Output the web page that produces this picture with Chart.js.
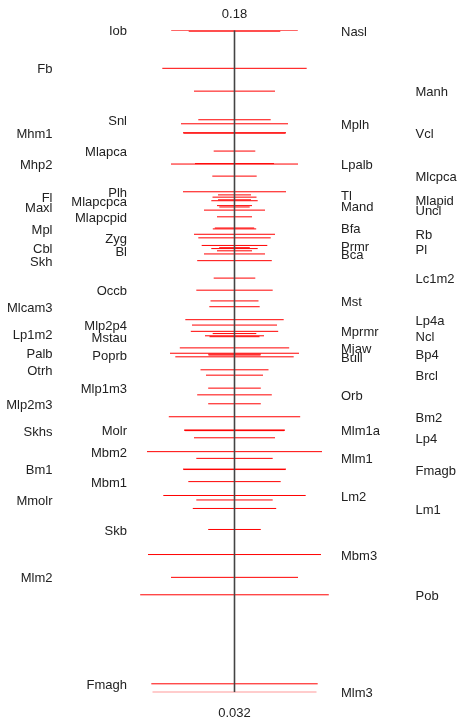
<!DOCTYPE html>
<html>
<head>
<meta charset="utf-8">
<script src="https://cdn.jsdelivr.net/npm/chart.js@4/dist/chart.umd.min.js"></script>
<style>
  body { margin: 0; background: #fff; }
</style>
</head>
<body>
<canvas id="cvChart" width="457" height="720"></canvas>
<script>

// traits in ranking order, top to bottom
const traits = [
  'Iob', 'Nasl', 'Fb', 'Manh', 'Snl', 'Mplh', 'Mhm1', 'Vcl', 'Mlapca', 'Lpalb',
  'Mhp2', 'Mlcpca', 'Plh', 'Tl', 'Fl', 'Mlapid', 'Mlapcpca', 'Mand', 'Maxl', 'Uncl',
  'Mlapcpid', 'Bfa', 'Mpl', 'Rb', 'Zyg', 'Prmr', 'Cbl', 'Pl', 'Bl', 'Bca',
  'Skh', 'Lc1m2', 'Occb', 'Mst', 'Mlcam3', 'Lp4a', 'Mlp2p4', 'Mprmr', 'Lp1m2', 'Ncl',
  'Mstau', 'Mjaw', 'Palb', 'Bp4', 'Poprb', 'Bull', 'Otrh', 'Brcl', 'Mlp1m3', 'Orb',
  'Mlp2m3', 'Bm2', 'Molr', 'Mlm1a', 'Skhs', 'Lp4', 'Mbm2', 'Mlm1', 'Bm1', 'Fmagb',
  'Mbm1', 'Lm2', 'Mmolr', 'Lm1', 'Skb', 'Mbm3', 'Mlm2', 'Pob', 'Fmagh', 'Mlm3'
]

const cvValues = [
  0.1800, 0.1798, 0.1715, 0.1664, 0.1600, 0.1591, 0.1571, 0.1570, 0.1530, 0.1502,
  0.1501, 0.1474, 0.1439, 0.1432, 0.1427, 0.1421, 0.1419, 0.1408, 0.1405, 0.1398,
  0.1383, 0.1358, 0.1356, 0.1344, 0.1336, 0.1319, 0.1314, 0.1312, 0.1307, 0.1300,
  0.1285, 0.1246, 0.1219, 0.1195, 0.1182, 0.1153, 0.1141, 0.1127, 0.1122, 0.1117,
  0.1115, 0.1090, 0.1078, 0.1076, 0.1074, 0.1070, 0.1041, 0.1029, 0.1000, 0.0985,
  0.0965, 0.0936, 0.0906, 0.0906, 0.0905, 0.0889, 0.0858, 0.0843, 0.0819, 0.0818,
  0.0791, 0.0760, 0.0750, 0.0731, 0.0684, 0.0628, 0.0577, 0.0538, 0.0339, 0.0320
]

// half length of each red bar
const spreads = [
  63.3, 45.8, 72.2, 40.5, 36.2, 53.5, 51.5, 51.0, 20.8, 39.5,
  63.5, 22.2, 51.5, 16.5, 22.0, 16.5, 23.2, 17.5, 15.2, 30.5,
  17.5, 19.7, 21.7, 40.5, 36.2, 32.8, 15.3, 23.2, 17.5, 30.5,
  37.3, 20.8, 38.2, 24.0, 25.2, 49.2, 42.5, 43.7, 21.8, 29.5,
  25.0, 54.7, 64.5, 26.3, 26.0, 59.2, 34.0, 28.5, 26.3, 37.3,
  26.3, 65.7, 50.5, 50.0, 49.5, 40.5, 87.5, 38.2, 51.5, 51.0,
  46.2, 71.2, 38.2, 41.7, 26.3, 86.5, 63.5, 94.3, 83.2, 82.0
]

const axisMax = 0.18
const axisMin = 0.032
const axisTicks = ['0.18', '0.032']

// label columns, used in turn
const columns = [
  { x: 127, align: 'right' },
  { x: 341, align: 'left' },
  { x: 52.5, align: 'right' },
  { x: 415.5, align: 'left' }
]

const segments = traits.map((name, i) => ({
  label: name,
  data: [{ x: -spreads[i], y: cvValues[i] }, { x: spreads[i], y: cvValues[i] }],
  borderColor: 'rgb(255, 0, 0)',
  borderWidth: 1,
  pointRadius: 0,
  order: 1
}))

const axisLine = {
  label: 'axis',
  data: [{ x: 0, y: axisMax }, { x: 0, y: axisMin }],
  borderColor: '#444',
  borderWidth: 1.6,
  pointRadius: 0,
  order: 0
}

const labelPlugin = {
  id: 'traitLabels',
  afterDatasetsDraw(chart) {
    const { ctx, scales: { x, y } } = chart
    ctx.save()
    ctx.font = '13px "Liberation Sans", Arial, sans-serif'
    ctx.fillStyle = '#222'
    ctx.textBaseline = 'middle'
    traits.forEach((name, i) => {
      const col = columns[i % 4]
      ctx.textAlign = col.align
      ctx.fillText(name, col.x, y.getPixelForValue(cvValues[i]) + 1.5)
    })
    ctx.textAlign = 'center'
    ctx.fillText(axisTicks[0], x.getPixelForValue(0), y.getPixelForValue(axisMax) - 16)
    ctx.fillText(axisTicks[1], x.getPixelForValue(0), y.getPixelForValue(axisMin) + 21)
    ctx.restore()
  }
}

const ctx = document.getElementById('cvChart').getContext('2d')

const myChart = new Chart(ctx, {
  type: 'line',
  data: { datasets: [axisLine, ...segments] },
  options: {
    responsive: false,
    animation: false,
    layout: { padding: { left: 12, right: 0, top: 30.3, bottom: 27.7 } },
    plugins: { legend: { display: false }, tooltip: { enabled: false } },
    scales: {
      x: { type: 'linear', min: -222.5, max: 222.5, display: false },
      y: { type: 'linear', min: axisMin, max: axisMax, display: false }
    }
  },
  plugins: [labelPlugin]
})
</script>
</body>
</html>
